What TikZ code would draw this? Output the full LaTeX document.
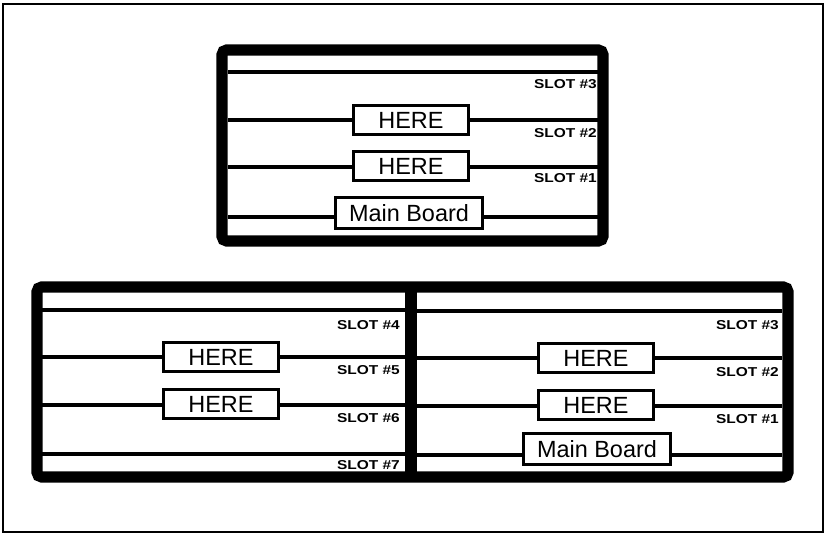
\documentclass[tikz,border=0pt]{standalone}
\usepackage{fontspec}
\setmainfont{Liberation Sans}
\usetikzlibrary{positioning, calc}

\newcommand{\slottxt}[1]{\scalebox{1.2}[1]{SLOT \##1}}

\begin{document}
\begin{tikzpicture}[x=0.03cm, y=-0.03cm,
      chassis/.style={draw, line width=9.5pt, rounded corners=4pt},
      slotline/.style={line width=4.2pt},
      card/.style={rectangle, draw, fill=white, line width=2.8pt,
                   minimum width=3.45cm, minimum height=0.86cm,
                   inner sep=0pt, font=\fontsize{20}{20}\selectfont},
      mainbrd/.style={card, minimum width=4.4cm, minimum height=0.92cm},
      slotlbl/.style={anchor=east, inner sep=0pt,
                      font=\fontsize{11}{11}\selectfont\bfseries}
    ]
    \useasboundingbox (0,0) rectangle (826,536);
    % Outer page frame
    \draw[line width=1.1pt] (3,4) rectangle (823,532);

    % Top chassis — 3 slots
    \draw[chassis] (222,50) rectangle (603,241);
    \foreach \y/\i in {72/a, 120/b, 167/c, 217/d}{
      \coordinate (tl\i) at (228,\y);
      \coordinate (tr\i) at (598,\y);
      \draw[slotline] (tl\i) -- (tr\i);
    }
    \node[card] (thereb) at (411,120) {HERE};
    \node[card] (therec) at (411,166) {HERE};
    \node[mainbrd] (tmain) at (409,213) {Main Board};
    \foreach \y/\txt in {84/3, 133/2, 178/1}{
      \node[slotlbl] at (597,\y) {\slottxt{\txt}};
    }

    % Bottom chassis — expansion side (left) and main side (right)
    \draw[chassis] (37,287) rectangle (788,477);
    \coordinate (divtop) at (411,284);
    \coordinate (divbot) at (411,480);
    \draw[line width=10pt] (divtop) -- (divbot);

    % Left half — slots 4 to 7
    \foreach \y/\i in {310/a, 357/b, 405/c, 454/d}{
      \coordinate (ll\i) at (42,\y);
      \coordinate (lr\i) at (405,\y);
      \draw[slotline] (ll\i) -- (lr\i);
    }
    \node[card] (lhereb) at (221,357) {HERE};
    \node[card] (lherec) at (221,404) {HERE};
    \foreach \y/\txt in {325/4, 370/5, 418/6, 465/7}{
      \node[slotlbl] at (400,\y) {\slottxt{\txt}};
    }

    % Right half — slots 3 to 1
    \foreach \y/\i in {311/a, 358/b, 406/c, 455/d}{
      \coordinate (rl\i) at (417,\y);
      \coordinate (rr\i) at (782,\y);
      \draw[slotline] (rl\i) -- (rr\i);
    }
    \node[card] (rhereb) at (596,358) {HERE};
    \node[card] (rherec) at (596,405) {HERE};
    \node[mainbrd] (rmain) at (597,449) {Main Board};
    \foreach \y/\txt in {325/3, 372/2, 419/1}{
      \node[slotlbl] at (779,\y) {\slottxt{\txt}};
    }
  \end{tikzpicture}
\end{document}
